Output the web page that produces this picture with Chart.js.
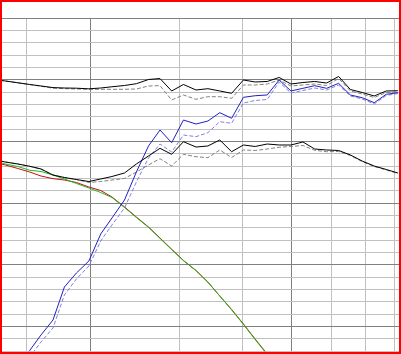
<!doctype html>
<html>
<head>
	<title>Response curves</title>
	<script src="https://cdn.jsdelivr.net/npm/chart.js@4.4.0/dist/chart.umd.min.js"></script>
	<style>
	body { margin: 0; background: #fff; }
	#frame {
		width: 401px;
		height: 354px;
		box-sizing: border-box;
		border: 2px solid #ff0000;
		background: #fff;
	}
	canvas { display: block; }
	</style>
</head>
<body>
	<div id="frame">
		<canvas id="canvas" width="397" height="350"></canvas>
	</div>
	<script>
		// x positions (log axis) shared by all curves
		var freq = [1.29, 1.36, 1.44, 1.52, 1.60, 1.69, 1.78, 1.88, 1.99, 2.10, 2.21, 2.34, 2.47, 2.61, 2.75,
			2.90, 3.06, 3.24, 3.42, 3.61, 3.81, 4.02, 4.24, 4.48, 4.73, 4.99, 5.27, 5.56, 5.87, 6.20,
			6.54, 6.90, 7.29, 7.70, 8.12];

		var upperBlack = [0.08, -0.16, -0.45, -0.73, -0.97, -1.23, -1.30, -1.33, -1.43, -1.30, -1.10, -0.89, -0.60, 0.08, 0.24,
			-1.78, -0.73, -1.62, -1.41, -1.78, -2.16, 0.00, -0.32, -0.24, 0.41, -0.65, -0.41, -0.24, -0.49, 0.57,
			-1.54, -2.03, -2.59, -1.78, -1.74];
		var upperDashed = [0.08, -0.16, -0.45, -0.73, -1.01, -1.33, -1.40, -1.46, -1.51, -1.51, -1.51, -1.51, -1.46, -0.97, -0.92,
			-3.24, -2.43, -3.13, -2.71, -2.71, -2.97, -0.81, -0.81, -0.65, 0.00, -0.97, -0.81, -0.65, -0.89, 0.24,
			-1.78, -2.27, -2.84, -2.03, -1.95];
		var blue = [null, null, -46.22, -43.87, -41.35, -38.92, -33.57, -31.30, -29.35, -24.97, -22.38, -19.46, -14.92, -10.70, -8.11,
			-10.17, -6.49, -7.14, -6.65, -5.30, -6.21, -2.81, -2.55, -2.43, 0.00, -1.78, -1.35, -0.92, -1.35, -0.54,
			-2.43, -2.87, -3.68, -2.32, -2.06];
		var blueDashed = [null, null, -47.35, -44.92, -42.49, -40.22, -34.86, -32.27, -30.16, -26.11, -23.51, -20.76, -16.54, -12.65, -10.38,
			-11.68, -8.92, -9.19, -8.55, -6.76, -7.02, -3.73, -3.32, -3.16, -0.32, -2.11, -1.70, -1.30, -1.62, -0.81,
			-2.59, -3.08, -3.89, -2.51, -2.19];
		var midBlack = [-12.89, -13.30, -13.62, -13.99, -14.43, -15.41, -15.81, -16.14, -16.46, -16.05, -15.65, -15.08, -13.62, -12.32, -11.08,
			-12.05, -10.01, -10.87, -10.70, -9.73, -11.63, -10.54, -10.78, -10.38, -10.54, -10.54, -10.05, -11.19, -11.35, -11.43,
			-12.16, -13.14, -13.95, -14.51, -15.08];
		var midDashed = [-12.89, -13.30, -13.62, -13.99, -14.43, -15.41, -15.81, -16.14, -16.62, -16.46, -16.22, -15.97, -14.92, -13.78, -12.76,
			-13.95, -12.05, -12.44, -12.60, -11.35, -12.57, -11.35, -11.43, -11.19, -10.91, -10.78, -10.62, -11.40, -11.63, -11.59,
			-12.24, -13.22, -14.03, -14.59, -15.16];
		var green = [-13.14, -13.62, -14.03, -14.64, -14.84, -15.41, -16.05, -16.78, -17.51, -18.24, -19.05, -20.68, -22.30, -23.89, -25.69,
			-27.52, -29.30, -30.92, -32.80, -35.03, -37.28, -39.63, -42.08, -44.53, -47.03, null, null, null, null, null,
			null, null, null, null, null];
		var red = [-13.30, -13.78, -14.35, -14.92, -15.57, -16.00, -16.22, -16.62, -17.35, -17.92, -18.97, -20.59, -22.22, -23.84, -25.62,
			-27.44, -29.27, -30.89, -32.76, -35.03, -37.22, -39.57, -42.00, -44.43, -47.03, null, null, null, null, null,
			null, null, null, null, null];

		var xGrid = [1.5, 2, 3, 4, 5, 6, 7, 8];
		var xMajor = [2, 5];
		var xMin = 1.34, xMax = 8.16;

		var LIGHT = '#c0c0c0';
		var DARK = '#808080';

		function pts(values) {
			return freq.map(function(f, i) {
				return { x: f, y: values[i] };
			});
		}

		function line(values, color, dash) {
			return {
				data: pts(values),
				borderColor: color,
				borderWidth: 1,
				borderDash: dash || [],
				pointRadius: 0,
				tension: 0,
				fill: false
			};
		}

		window.onload = function() {
			var ctx = document.getElementById('canvas').getContext('2d');
			window.myChart = new Chart(ctx, {
				type: 'line',
				data: {
					datasets: [
						line(upperBlack, '#000000'),
						line(midBlack, '#000000'),
						line(blue, '#2020c0'),
						line(green, '#20b820'),
						line(red, '#c81010'),
						line(upperDashed, '#808080', [4, 2]),
						line(midDashed, '#808080', [4, 2]),
						line(blueDashed, '#8080e0', [4, 2])
					]
				},
				options: {
					responsive: false,
					animation: false,
					devicePixelRatio: 1,
					layout: { padding: { top: 16.33, bottom: 0.67, left: 0, right: 0 } },
					plugins: {
						legend: { display: false },
						tooltip: { enabled: false }
					},
					scales: {
						x: {
							type: 'logarithmic',
							bounds: 'data',
							min: xMin,
							max: xMax,
							afterBuildTicks: function(scale) {
								// the log scale rounds its min, put it back
								scale.min = xMin;
								scale.max = xMax;
								scale.ticks = xGrid.map(function(v) { return { value: v }; });
							},
							afterFit: function(scale) { scale.height = 0; },
							ticks: { display: false },
							border: { display: false },
							grid: {
								drawTicks: false,
								lineWidth: 1,
								color: function(c) {
									return xMajor.indexOf(c.tick.value) >= 0 ? DARK : LIGHT;
								}
							}
						},
						y: {
							min: -44,
							max: 10,
							afterFit: function(scale) { scale.width = 0; },
							ticks: { display: false, stepSize: 2 },
							border: { display: false },
							grid: {
								drawTicks: false,
								lineWidth: 1,
								color: function(c) {
									return Math.abs(c.tick.value % 10) < 0.01 ? DARK : LIGHT;
								}
							}
						}
					}
				}
			});
		};
	</script>
</body>
</html>
